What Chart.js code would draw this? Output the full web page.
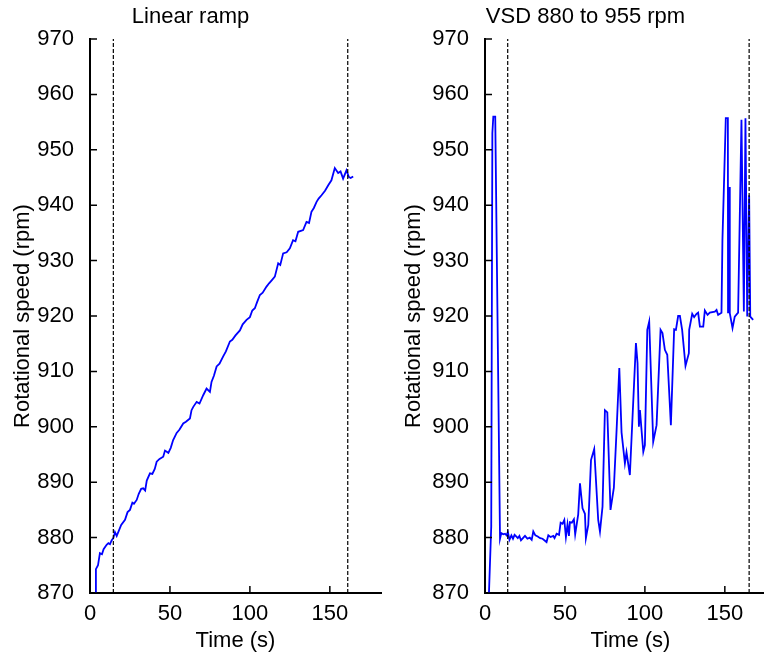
<!DOCTYPE html>
<html>
<head>
<meta charset="utf-8">
<script src="https://cdn.jsdelivr.net/npm/chart.js@4.4.1/dist/chart.umd.min.js"></script>
<style>
html, body { margin: 0; padding: 0; background: #fff; overflow: hidden; width: 764px; height: 657px; }
canvas { position: absolute; top: 0; }
#rampChart { left: 0; }
#vsdChart { left: 395px; }
</style>
</head>
<body>
<canvas id="rampChart" width="400" height="657"></canvas>
<canvas id="vsdChart" width="400" height="657"></canvas>
<script>
// axis ticks
let timeTicks = [0, 50, 100, 150];
let speedTicks = [870, 880, 890, 900, 910, 920, 930, 940, 950, 960, 970];

// linear ramp test
let rampTime = [3.4, 3.7, 5, 6.2, 7.5, 8.5, 10.4, 11.5, 12.5, 13.5, 14.6, 15.6, 16.7, 18, 19.5, 21.9, 23.5, 25, 26.5, 27.5, 29.2, 30.5, 32, 33.3, 34.5, 35.5, 37.5, 39, 40.5, 41.7, 43.5, 45.8, 46.9, 49, 50.5, 52, 53, 54.2, 56, 58.3, 60, 62.5, 63.5, 64.6, 66.7, 68.5, 70.8, 72.9, 75, 76, 77.5, 79.2, 81, 83.3, 85, 87.5, 89, 91, 93.75, 95.5, 97.9, 100, 101.5, 103.1, 104.5, 106.25, 108, 110.4, 112, 113.5, 115.6, 117.7, 119, 120.8, 123, 125, 127, 128.5, 130.2, 133.3, 135.4, 137, 138.5, 140, 141.7, 143, 144.8, 147, 149, 151, 153.1, 155.2, 156.7, 158.3, 160.4, 161.9, 163, 164.6];
let rampSpeed = [866, 874.3, 875, 877.2, 877, 877.9, 878.7, 879, 878.8, 879.5, 879.9, 881, 880.3, 881.2, 882.3, 883.2, 884.6, 885, 886.3, 886.1, 886.8, 887.9, 888.8, 888.9, 888.5, 890.3, 891.6, 891.5, 892.4, 893.7, 894.2, 894.6, 895.7, 895.3, 896.2, 897.6, 898.2, 898.9, 899.5, 900.6, 900.9, 901.5, 903, 903.6, 904.5, 904.2, 905.7, 906.9, 906.3, 908.1, 909.2, 910.9, 911.4, 912.7, 913.6, 915.4, 915.7, 916.5, 917.4, 918.5, 919.3, 919.8, 921, 921.4, 922.5, 923.8, 924.2, 925.3, 925.9, 926.4, 927.1, 929.5, 929.2, 931.3, 931.5, 932.2, 933.7, 933.5, 935.2, 935.5, 937, 936.8, 938.8, 939.5, 940.6, 941.2, 941.8, 942.6, 943.6, 944.5, 946.7, 945.8, 946.1, 944.8, 946.3, 945.1, 944.9, 945.2];
let rampMarkers = [14.6, 161.2];

// variable speed drive test
let vsdTime = [2.0, 3.9, 4.6, 5.2, 6.4, 9.4, 10.2, 11.5, 12.5, 13.5, 14.3, 15.3, 16.5, 17.5, 18.5, 19.5, 20.5, 21.5, 22.5, 24, 25, 26.5, 28, 29.2, 30.2, 31.5, 33, 34.5, 36, 38.5, 39.6, 41, 42.7, 43.5, 44.8, 46.3, 47.3, 48.5, 49.6, 50.6, 51.6, 52.5, 53.1, 54.3, 55.6, 56.4, 58.3, 59.4, 61, 62.5, 63.1, 64.6, 66.3, 68.3, 70.8, 71.9, 73.5, 75, 76.5, 78.5, 80.6, 82.3, 84, 85.4, 87.5, 88.5, 90.6, 94.4, 95.4, 96.25, 96.9, 99, 100, 101.5, 102.7, 105.2, 107.3, 109.8, 111, 112.5, 114, 116.25, 118.3, 119.4, 120.8, 121.9, 123.3, 125.4, 127.5, 127.7, 129.6, 130.8, 132.3, 133.3, 134.4, 136.5, 137.5, 139.2, 140.6, 143.75, 144.8, 145.8, 147.9, 148.5, 150.6, 151.9, 152.0, 152.7, 153.1, 154.8, 156.2, 158.3, 160.4, 161.9, 162.9, 164, 165.2, 165.9, 167.7];
let vsdSpeed = [866, 882, 953, 956, 956, 879.8, 880.8, 880.6, 880.7, 880.4, 881, 879.6, 880.4, 879.8, 880.5, 880.2, 879.9, 880.3, 879.5, 880, 880.3, 879.8, 880, 879.6, 881.1, 880.4, 880.2, 879.9, 879.8, 879.2, 880.4, 880.1, 880.3, 879.9, 880.7, 880.5, 882.7, 882.5, 883.2, 880.1, 882.4, 880.3, 882.8, 882.7, 883.3, 880.6, 884.2, 889.8, 885.3, 884.3, 879.9, 882.3, 894, 896, 883.2, 881.1, 885.6, 903, 902.6, 885, 889, 899.4, 910.6, 899, 893.4, 895.4, 891.3, 915.1, 911.5, 900, 903, 895.5, 896.7, 917.5, 919, 897.3, 900.3, 917.5, 916.9, 913.9, 913, 900.3, 917.6, 917.5, 920, 920, 917.5, 911, 913.3, 917.5, 920.4, 919.8, 920.4, 920.6, 918.1, 918.1, 921, 920.2, 920.6, 920.8, 921.1, 920.2, 920.6, 933.7, 955.7, 955.7, 920.5, 943.3, 920.5, 917.8, 919.9, 920.6, 955.4, 920.8, 955.7, 919.9, 941.8, 919.9, 919.3];
let vsdMarkers = [14.2, 165.2];

const font = { family: 'Liberation Sans', size: 22 };

// tick marks point into the plot, as in the original figure
const inwardTicks = {
	id: 'inwardTicks',
	afterDatasetsDraw(chart) {
		const { ctx, chartArea: a, scales: { x, y } } = chart;
		ctx.save();
		ctx.strokeStyle = '#000';
		ctx.lineWidth = 1.5;
		ctx.beginPath();
		timeTicks.forEach(t => {
			const px = x.getPixelForValue(t);
			ctx.moveTo(px, a.bottom);
			ctx.lineTo(px, a.bottom - 7);
		});
		speedTicks.forEach(v => {
			const py = y.getPixelForValue(v);
			ctx.moveTo(a.left, py);
			ctx.lineTo(a.left + 7, py);
		});
		ctx.stroke();
		ctx.restore();
	}
};

function makeChart(id, title, times, speeds, markers, titlePad) {
	const markerSets = markers.map(m => ({
		data: [{ x: m, y: 870 }, { x: m, y: 970 }],
		borderColor: '#000',
		borderWidth: 1.2,
		borderDash: [4, 2],
		pointRadius: 0
	}));
	return new Chart(document.getElementById(id), {
		type: 'line',
		data: {
			datasets: markerSets.concat([{
				data: times.map((t, i) => ({ x: t, y: speeds[i] })),
				borderColor: '#0000ff',
				borderWidth: 1.8,
				pointRadius: 0,
				tension: 0
			}])
		},
		options: {
			responsive: false,
			animation: false,
			layout: { padding: { left: 0, right: 19, top: 0, bottom: 0 } },
			plugins: {
				legend: { display: false },
				tooltip: { enabled: false },
				title: {
					display: true,
					text: title,
					color: '#000',
					font: { family: font.family, size: 22, weight: 'normal' },
					padding: { top: 4, bottom: 8.6 }
				}
			},
			scales: {
				x: {
					type: 'linear',
					min: 0,
					max: 182,
					grid: { display: false },
					border: { display: true, color: '#000', width: 2 },
					afterBuildTicks: s => { s.ticks = timeTicks.map(v => ({ value: v })); },
					afterFit: s => { s.height = 64; },
					ticks: { color: '#000', font: font, padding: 0, maxRotation: 0 },
					title: { display: true, text: 'Time (s)', color: '#000', font: font, padding: { top: 0, bottom: 3 } }
				},
				y: {
					min: 870,
					max: 970,
					grid: { display: false },
					border: { display: true, color: '#000', width: 2 },
					afterBuildTicks: s => { s.ticks = speedTicks.map(v => ({ value: v })); },
					afterFit: s => { s.width = 90; },
					ticks: { color: '#000', font: font, padding: 8 },
					title: { display: true, text: 'Rotational speed (rpm)', color: '#000', font: font, padding: { top: titlePad, bottom: 0 } }
				}
			}
		},
		plugins: [inwardTicks]
	});
}

makeChart('rampChart', 'Linear ramp', rampTime, rampSpeed, rampMarkers, 9.3);
makeChart('vsdChart', 'VSD 880 to 955 rpm', vsdTime, vsdSpeed, vsdMarkers, 6.2);
</script>
</body>
</html>
